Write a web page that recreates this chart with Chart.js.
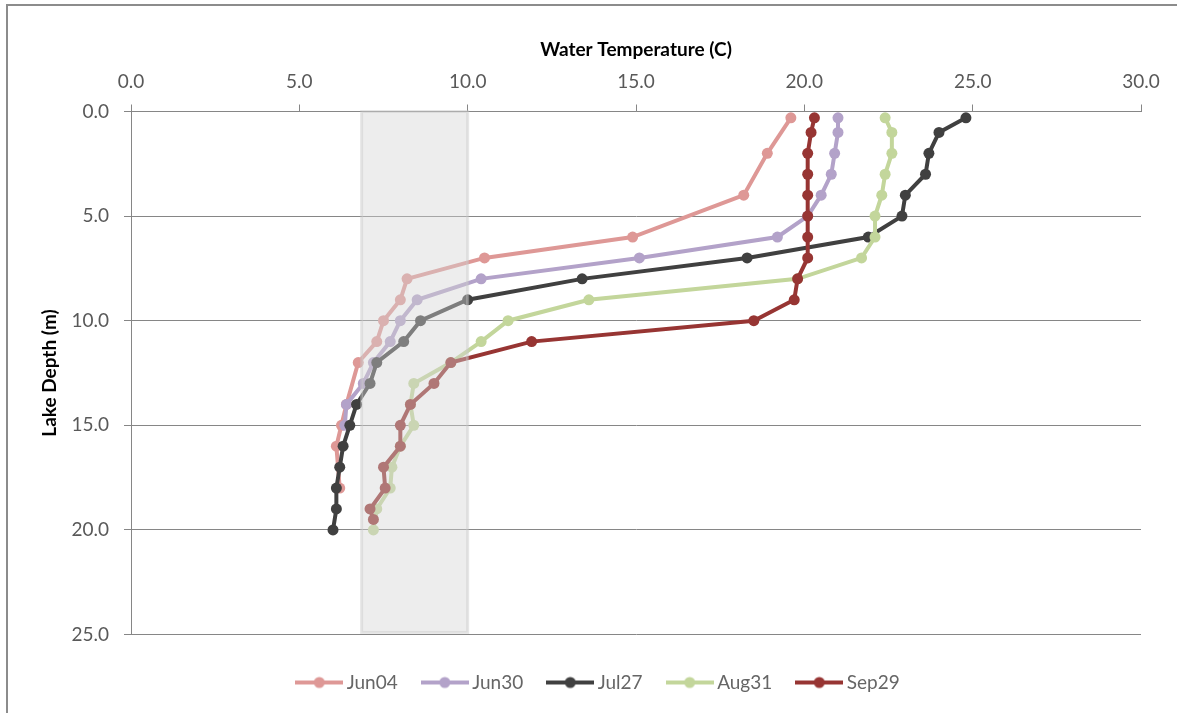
<!DOCTYPE html>
<html>
<head>
<meta charset="utf-8">
<title>Lake temperature profiles</title>
<script src="https://cdn.jsdelivr.net/npm/chart.js@4.4.1/dist/chart.umd.min.js"></script>
<style>
  html, body { margin: 0; padding: 0; background: #fff; overflow: hidden; }
  #frame { position: absolute; left: 6px; top: 4px; width: 1200px; height: 800px; border: 2px solid #8c8c8c; }
  #wrap { position: absolute; left: 0; top: 0; width: 1177px; height: 713px; }
</style>
</head>
<body>
<div id="frame"></div>
<div id="wrap"><canvas id="profileChart"></canvas></div>
<script>
// axis ticks
const tempTicks = [0, 5, 10, 15, 20, 25, 30];
const depthTicks = [0, 5, 10, 15, 20, 25];

// grey temperature band (C) and its depth extent (m)
const bandTemp = [6.85, 10.0];
const bandDepth = [0, 24.9];

// profiles: depth (m) and water temperature (C)
const jun04Depth = [0.3, 2, 4, 6, 7, 8, 9, 10, 11, 12, 14, 15, 16, 18];
const jun04Temp = [19.6, 18.9, 18.2, 14.9, 10.5, 8.2, 8.0, 7.5, 7.3, 6.75, 6.4, 6.25, 6.1, 6.2];

const jun30Depth = [0.3, 1, 2, 3, 4, 5, 6, 7, 8, 9, 10, 11, 12, 13, 14, 15];
const jun30Temp = [21.0, 21.0, 20.9, 20.8, 20.5, 20.1, 19.2, 15.1, 10.4, 8.5, 8.0, 7.7, 7.2, 6.9, 6.4, 6.35];

const jul27Depth = [0.3, 1, 2, 3, 4, 5, 6, 7, 8, 9, 10, 11, 12, 13, 14, 15, 16, 17, 18, 19, 20];
const jul27Temp = [24.8, 24.0, 23.7, 23.6, 23.0, 22.9, 21.9, 18.3, 13.4, 10.0, 8.6, 8.1, 7.3, 7.1, 6.7, 6.5, 6.3, 6.2, 6.1, 6.1, 6.0];

const aug31Depth = [0.3, 1, 2, 3, 4, 5, 6, 7, 8, 9, 10, 11, 12, 13, 14, 15, 16, 17, 18, 19, 20];
const aug31Temp = [22.4, 22.6, 22.6, 22.4, 22.3, 22.1, 22.1, 21.7, 19.8, 13.6, 11.2, 10.4, 9.5, 8.4, 8.3, 8.4, 8.0, 7.75, 7.7, 7.3, 7.2];

const sep29Depth = [0.3, 1, 2, 3, 4, 5, 6, 7, 8, 9, 10, 11, 12, 13, 14, 15, 16, 17, 18, 19, 19.5];
const sep29Temp = [20.3, 20.2, 20.1, 20.1, 20.1, 20.1, 20.1, 20.1, 19.8, 19.7, 18.5, 11.9, 9.5, 9.0, 8.3, 8.0, 8.0, 7.5, 7.55, 7.1, 7.2];

const GRID = '#868686';
const FONT = 'Lato, "Open Sans", sans-serif';

function toPoints(temps, depths) {
    return temps.map((t, i) => ({ x: t, y: depths[i] }));
}

// line-with-dot icon used in the legend
function legendIcon(color) {
    const c = document.createElement('canvas');
    c.width = 48;
    c.height = 14;
    const g = c.getContext('2d');
    g.strokeStyle = color;
    g.lineWidth = 4;
    g.beginPath();
    g.moveTo(0, 7);
    g.lineTo(48, 7);
    g.stroke();
    g.fillStyle = color;
    g.beginPath();
    g.arc(24, 7, 5.5, 0, Math.PI * 2);
    g.fill();
    return c;
}

function series(label, temps, depths, color, order) {
    return {
        label: label,
        data: toPoints(temps, depths),
        borderColor: color,
        backgroundColor: color,
        pointBackgroundColor: color,
        pointBorderColor: color,
        pointBorderWidth: 0,
        pointRadius: 5.5,
        borderWidth: 4,
        tension: 0,
        fill: false,
        order: order
    };
}

// semi transparent grey band drawn over the profiles
const bandPlugin = {
    id: 'tempBand',
    afterDatasetsDraw(chart) {
        const { ctx, scales: { x, y } } = chart;
        const left = x.getPixelForValue(bandTemp[0]);
        const right = x.getPixelForValue(bandTemp[1]);
        const top = y.getPixelForValue(bandDepth[0]);
        const bottom = y.getPixelForValue(bandDepth[1]);
        ctx.save();
        ctx.fillStyle = 'rgba(212, 212, 212, 0.42)';
        ctx.fillRect(left, top, right - left, bottom - top);
        ctx.strokeStyle = 'rgba(200, 200, 200, 0.45)';
        ctx.lineWidth = 3;
        ctx.strokeRect(left, top, right - left, bottom - top);
        ctx.restore();
    }
};

document.addEventListener('DOMContentLoaded', function () {
    if (typeof Chart === 'undefined') {
        console.error('Chart.js is not loaded.');
        return;
    }

    const ctx = document.getElementById('profileChart');

    new Chart(ctx.getContext('2d'), {
        type: 'line',
        data: {
            datasets: [
                series('Jun04', jun04Temp, jun04Depth, '#DE9896', 5),
                series('Jun30', jun30Temp, jun30Depth, '#B3A2C9', 4),
                series('Jul27', jul27Temp, jul27Depth, '#404040', 3),
                series('Aug31', aug31Temp, aug31Depth, '#C3D69B', 2),
                series('Sep29', sep29Temp, sep29Depth, '#973533', 1)
            ]
        },
        options: {
            responsive: true,
            maintainAspectRatio: false,
            animation: false,
            layout: {
                padding: { left: 60, right: 36, top: 0, bottom: 11 }
            },
            scales: {
                x: {
                    type: 'linear',
                    position: 'top',
                    min: 0,
                    max: 30,
                    afterBuildTicks: s => { s.ticks = tempTicks.map(v => ({ value: v })); },
                    afterFit: s => { s.height = 111.5; },
                    grid: { drawOnChartArea: false, color: GRID, tickLength: 7 },
                    border: { color: GRID },
                    ticks: {
                        padding: 11,
                        color: '#595959',
                        font: { family: FONT, size: 19 },
                        maxRotation: 0,
                        autoSkip: false,
                        callback: v => Number(v).toFixed(1)
                    },
                    title: {
                        display: true,
                        text: 'Water Temperature (C)',
                        color: '#000',
                        font: { family: FONT, size: 19, weight: 'bold' },
                        padding: { top: 38, bottom: 0 }
                    }
                },
                y: {
                    type: 'linear',
                    position: 'left',
                    reverse: true,
                    min: 0,
                    max: 25,
                    afterBuildTicks: s => { s.ticks = depthTicks.map(v => ({ value: v })); },
                    afterFit: s => { s.width = 71; },
                    grid: { color: GRID, tickLength: 7 },
                    border: { color: GRID },
                    ticks: {
                        padding: 15,
                        color: '#595959',
                        font: { family: FONT, size: 19 },
                        autoSkip: false,
                        callback: v => Number(v).toFixed(1)
                    },
                    title: {
                        display: true,
                        text: 'Lake Depth (m)',
                        color: '#000',
                        font: { family: FONT, size: 19, weight: 'bold' },
                        padding: { top: -21.4, bottom: 0 }
                    }
                }
            },
            plugins: {
                legend: {
                    position: 'bottom',
                    title: { display: true, text: '', font: { size: 5 }, padding: { top: 2, bottom: 1.5 } },
                    labels: {
                        usePointStyle: true,
                        pointStyleWidth: 36,
                        padding: 29,
                        color: '#404040',
                        font: { family: FONT, size: 19 },
                        generateLabels: chart => chart.data.datasets.map((ds, i) => ({
                            text: ds.label,
                            pointStyle: legendIcon(ds.borderColor),
                            fillStyle: ds.borderColor,
                            strokeStyle: ds.borderColor,
                            lineWidth: 0,
                            hidden: !chart.isDatasetVisible(i),
                            datasetIndex: i
                        }))
                    }
                },
                tooltip: { enabled: false }
            }
        },
        plugins: [bandPlugin]
    });
});
</script>
</body>
</html>
